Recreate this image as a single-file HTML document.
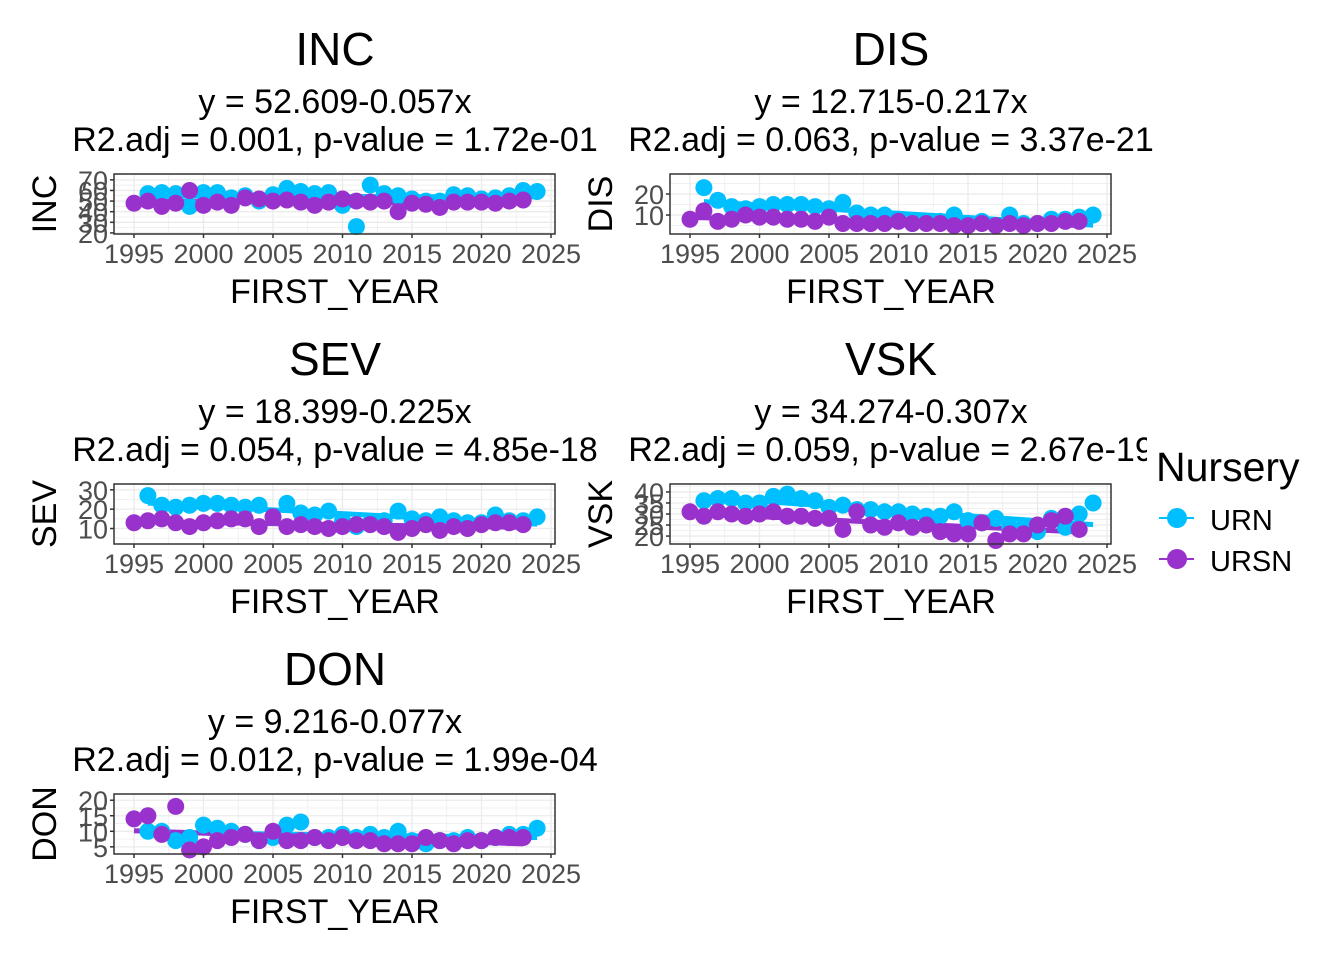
<!DOCTYPE html>
<html><head><meta charset="utf-8"><style>
html,body{margin:0;padding:0;background:#fff;}
svg{display:block;font-family:"Liberation Sans",Arial,sans-serif;}
</style></head><body>
<svg id="chart" width="1344" height="960" viewBox="0 0 1344 960">
<g id="panels"></g>
<g>
<rect x="1147" y="420" width="197" height="170" fill="#fff"/>
<text x="1156" y="481" font-size="41" fill="#000">Nursery</text>
<g>
<line x1="1159" x2="1194" y1="518" y2="518" stroke="#00BFFF" stroke-width="2"/>
<circle cx="1177" cy="518" r="10" fill="#00BFFF"/>
<text x="1210" y="530" font-size="29" fill="#000">URN</text></g>
<g>
<line x1="1159" x2="1194" y1="559" y2="559" stroke="#9932CC" stroke-width="2"/>
<circle cx="1177" cy="559" r="10" fill="#9932CC"/>
<text x="1210" y="571" font-size="29" fill="#000">URSN</text></g>
</g>
</svg>
<script>
const years = [1995,1996,1997,1998,1999,2000,2001,2002,2003,2004,2005,2006,2007,2008,2009,2010,2011,2012,2013,2014,2015,2016,2017,2018,2019,2020,2021,2022,2023,2024];
const xTicks = [1995,2000,2005,2010,2015,2020,2025];
const incURN = [null,57,58,57,45,58,58,53,55,50,56,62,59,57,58,46,26,65,57,55,52,50,50,56,55,52,53,55,60,59];
const incURSN = [48,50,45,48,60,46,49,46,53,52,50,51,49,46,49,52,50,49,50,40,48,47,44,49,49,49,48,50,51,null];
const disURN = [null,23,17,14,13,14,15,15,15,14,13,16,11,10,10,8,6,7,7,10,6,7,5,10,6,6,8,8,9,10];
const disURSN = [8,12,7,8,10,9,9,8,8,7,9,6,6,6,6,7,6,6,6,5,5,6,5,6,5,6,6,7,7,null];
const sevURN = [null,27,22,21,22,23,23,22,21,22,16,23,18,17,19,14,11,13,14,19,15,14,16,14,13,13,17,14,14,16];
const sevURSN = [13,14,15,13,11,13,14,15,15,11,16,11,12,11,10,11,12,12,11,8,10,12,9,11,10,12,13,13,12,null];
const vskURN = [null,36,37,37,35,35,38,39,37,36,33,34,32,32,31,31,30,29,29,31,27,26,28,24,24,22,28,24,30,35];
const vskURSN = [31,29,31,30,29,30,31,29,29,28,28,23,31,25,24,26,24,25,22,21,21,26,18,21,21,25,27,29,23,null];
const donURN = [null,10,10,7,8,12,11,10,9,7,8,12,13,8,8,9,8,9,8,10,7,6,7,7,8,7,8,9,9,11];
const donURSN = [14,15,9,18,4,5,7,8,9,7,10,7,7,8,7,8,7,7,6,6,6,8,7,6,7,7,8,8,8,null];
const incTicks = [20,30,40,50,60,70];
const disTicks = [10,20];
const sevTicks = [10,20,30];
const vskTicks = [20,25,30,35,40];
const donTicks = [5,10,15,20];
const titles = ["INC","DIS","SEV","VSK","DON"];
const equations = ["y = 52.609-0.057x","y = 12.715-0.217x","y = 18.399-0.225x","y = 34.274-0.307x","y = 9.216-0.077x"];
const stats = ["R2.adj = 0.001, p-value = 1.72e-01","R2.adj = 0.063, p-value = 3.37e-21","R2.adj = 0.054, p-value = 4.85e-18","R2.adj = 0.059, p-value = 2.67e-19","R2.adj = 0.012, p-value = 1.99e-04"];

const NS = "http://www.w3.org/2000/svg";
const root = document.getElementById('panels');
function mk(tag, attrs, parent){const e=document.createElementNS(NS,tag);for(const k in attrs)e.setAttribute(k,attrs[k]);parent.appendChild(e);return e;}

const panels = [
 {ox:0, oy:0, urn:incURN, ursn:incURSN, ticks:incTicks, dom:[19,75.5]},
 {ox:556, oy:0, urn:disURN, ursn:disURSN, ticks:disTicks, dom:[1,29.5]},
 {ox:0, oy:310, urn:sevURN, ursn:sevURSN, ticks:sevTicks, dom:[2,33]},
 {ox:556, oy:310, urn:vskURN, ursn:vskURSN, ticks:vskTicks, dom:[16.4,43.6]},
 {ox:0, oy:620, urn:donURN, ursn:donURSN, ticks:donTicks, dom:[2.7,22]}
];

function fit(vals){let n=0,sx=0,sy=0,sxx=0,sxy=0;years.forEach((y,i)=>{const v=vals[i];if(v==null)return;n++;sx+=y;sy+=v;sxx+=y*y;sxy+=y*v;});const b=(n*sxy-sx*sy)/(n*sxx-sx*sx);return {a:(sy-b*sx)/n,b:b};}

panels.forEach((p,pi)=>{
  const L=114+p.ox, R=555+p.ox, T=174+p.oy, B=234+p.oy;
  const g=mk('g',{},root);
  
  
  const xs=y=>L+20+(y-1995)*(R-L-24)/30;
  const ys=v=>B-(v-p.dom[0])/(p.dom[1]-p.dom[0])*(B-T);
  const t=mk('text',{x:335+p.ox,y:65+p.oy,'font-size':46,'text-anchor':'middle',fill:'#000'},g);t.textContent=titles[pi];
  
  const e1=mk('text',{x:335+p.ox,y:113+p.oy,'font-size':34,'text-anchor':'middle',fill:'#000'},g);e1.textContent=equations[pi];
  
  const e2=mk('text',{x:335+p.ox,y:151+p.oy,'font-size':34,'text-anchor':'middle',fill:'#000'},g);e2.textContent=stats[pi];
  
  mk('rect',{x:L,y:T,width:R-L,height:B-T,fill:'#fff'},g);
  for(let y=1995;y<=2025;y+=2.5){mk('line',{x1:xs(y),x2:xs(y),y1:T,y2:B,stroke:'#ebebeb','stroke-width':y%5?0.7:1.3},g);}
  const step=p.ticks[1]-p.ticks[0];
  for(let v=p.ticks[0]-step;v<=p.ticks[p.ticks.length-1]+step;v+=step/2){const yy=ys(v);if(yy<T||yy>B)continue;mk('line',{x1:L,x2:R,y1:yy,y2:yy,stroke:'#ebebeb','stroke-width':(Math.round(v/step*2)%2)?0.7:1.3},g);}
  [[p.urn,'#00BFFF'],[p.ursn,'#9932CC']].forEach(([vals,col])=>{
    const f=fit(vals);let first=null,last=null;years.forEach((y,i)=>{if(vals[i]!=null){if(first==null)first=y;last=y;}});
    const ln=mk('line',{x1:xs(first),x2:xs(last),y1:ys(f.a+f.b*first),y2:ys(f.a+f.b*last),stroke:col,'stroke-width':5},g);
    
  });
  [[p.urn,'#00BFFF','urn'],[p.ursn,'#9932CC','ursn']].forEach(([vals,col,nm])=>{
    years.forEach((y,i)=>{const v=vals[i];if(v==null)return;
      const c=mk('circle',{cx:xs(y),cy:ys(v),r:8.5,fill:col},g);
      });
  });
  mk('rect',{x:L,y:T,width:R-L,height:B-T,fill:'none',stroke:'#333','stroke-width':1.5},g);
  xTicks.forEach(y=>{mk('line',{x1:xs(y),x2:xs(y),y1:B,y2:B+4,stroke:'#333','stroke-width':1.5},g);
    const tx=mk('text',{x:xs(y),y:B+29,'font-size':27,'text-anchor':'middle',fill:'#4d4d4d'},g);tx.textContent=y;
    });
  p.ticks.forEach(v=>{const yy=ys(v);mk('line',{x1:L-4,x2:L,y1:yy,y2:yy,stroke:'#333','stroke-width':1.5},g);
    const ty=mk('text',{x:L-6,y:yy+10,'font-size':27,'text-anchor':'end',fill:'#4d4d4d'},g);ty.textContent=v;
    });
  const xt=mk('text',{x:335+p.ox,y:303+p.oy,'font-size':34,'text-anchor':'middle',fill:'#000'},g);xt.textContent='FIRST_YEAR';
  
  const yt=mk('text',{x:0,y:0,'font-size':34,'text-anchor':'middle',fill:'#000',transform:`translate(${56+p.ox},${(T+B)/2}) rotate(-90)`},g);yt.textContent=titles[pi];
  
});
</script>
</body></html>
